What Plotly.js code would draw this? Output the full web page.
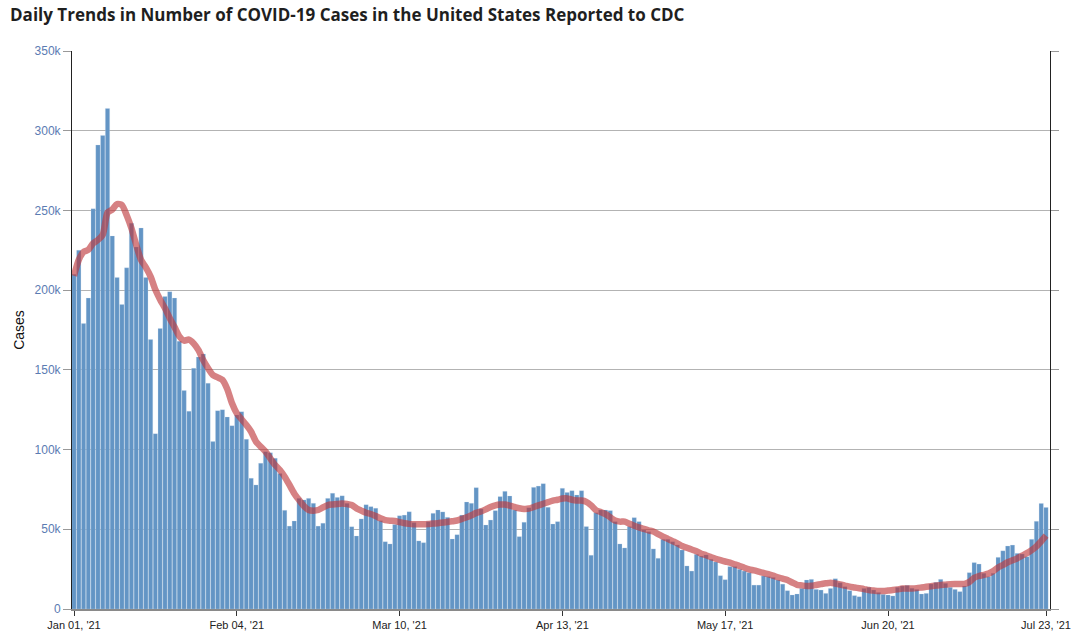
<!DOCTYPE html>
<html>
<head>
<meta charset="utf-8">
<script src="https://cdn.plot.ly/plotly-3.0.1.min.js"></script>
<style>
  html, body { margin: 0; padding: 0; background: #fff; }
  #chart { width: 1080px; height: 636px; }
</style>
</head>
<body>
<div id="chart"></div>
<script>
// First reported date; one bar per day after it
const startDate = '2021-01-01';

// Daily new cases (thousands), Jan 01 - Jul 23 2021
const dailyCasesK = [
  210, 225, 179, 195, 251, 291, 297, 314, 234, 208,
  191, 214, 242, 227, 239, 208, 169, 110, 176, 196,
  199, 195, 168, 137, 124, 151, 158, 160, 141.6, 105,
  124.4, 125, 120.4, 115, 121.7, 123.8, 106.4, 82, 77.8, 91.4,
  98.7, 98, 94.5, 85, 61.9, 52, 55.2, 69.4, 68.4, 69.4,
  66.3, 52, 53.8, 69.4, 72.6, 70, 71, 66.3, 51.6, 45.8,
  56.5, 65.4, 64.2, 63.2, 55.4, 42.2, 40.8, 53, 58.5, 58.9,
  61, 54.2, 42.7, 41.6, 54.8, 60, 62.1, 60.9, 57.5, 43.9,
  46.6, 58.9, 67.1, 66.3, 76.1, 62.8, 52.7, 55.8, 61.7, 70.5,
  73.8, 70.9, 62.1, 45.4, 54.4, 63.5, 76.3, 77.1, 78.6, 63.8,
  53.3, 54.8, 75.7, 73.1, 74.2, 71.5, 74.2, 51.7, 33.7, 60.4,
  62.1, 62.1, 61.7, 54.8, 40.8, 38.3, 51.7, 57.3, 54.8, 49.6,
  48.5, 37.7, 31.8, 43.7, 43.7, 42.2, 40.2, 37, 27, 23.8,
  34.3, 33.2, 33.9, 31.2, 29.5, 20.9, 18.4, 26.6, 26.6, 24.9,
  23.8, 22.8, 15, 15, 20.7, 20.3, 19.8, 18.2, 15.6, 11.5,
  8.8, 9.4, 12.9, 18.2, 18.6, 12.3, 11.9, 9.8, 12.9, 19,
  16.5, 14, 11.5, 8.4, 7.7, 12.9, 13.6, 11.9, 10.4, 9.2,
  8.8, 8.2, 13.6, 14.4, 14.8, 13, 12.3, 9.4, 9.8, 15.7,
  16.7, 18.6, 16.1, 13.6, 12.3, 10.9, 14.4, 22.8, 29.1, 28.2,
  22.4, 20.3, 22.4, 32.4, 36.5, 39.5, 40.1, 34.9, 34.5, 32.8,
  43.7, 55, 66.2, 63.7
];

// 7-day moving average (thousands)
const sevenDayAvgK = [
  209, 219, 224, 225.3, 229.4, 231.5, 234.7, 248.6, 250.6, 254,
  253.4, 247, 238.8, 228.3, 219, 214.3, 208.5, 200.2, 194, 188.6,
  182.4, 176.8, 171, 168.3, 169, 166.6, 162.4, 156, 151, 146.8,
  145.3, 143.7, 138, 129, 122.7, 119, 115.4, 111.2, 105, 101.8,
  98.7, 94.5, 90.3, 87.2, 83, 77.8, 72.5, 68.4, 64.6, 62.1,
  61.7, 62.1, 63.7, 65.2, 65.6, 65.9, 66.1, 65.9, 65.2, 63.1,
  61.7, 60.4, 59.6, 58.3, 56.9, 55.8, 55.4, 55.2, 54.5, 53.8,
  53.4, 53.2, 53.1, 53.1, 53.3, 53.6, 53.8, 54.3, 54.6, 55,
  55.5, 56.5, 57.5, 58.8, 60.3, 61.2, 62.5, 64, 65, 65.5,
  65.5, 64.8, 64, 63.2, 62.8, 63, 64, 65, 66, 67,
  68, 68.5, 69.3, 69.4, 68.5, 68, 68, 67.2, 65, 62,
  60.8, 59.5, 57.5, 55.5, 54.8, 54.8, 53.5, 52.2, 51.2, 50.2,
  49.3, 48.6, 47, 45.4, 44, 42.6, 41.2, 39.5, 38.4, 37.3,
  36.2, 34.7, 33.7, 32.6, 31.5, 30.6, 29.8, 29.1, 28, 27,
  25.9, 24.9, 24.2, 23.4, 22.6, 21.8, 20.9, 19.9, 19, 18.2,
  16.6, 15.2, 14.8, 14.4, 14.6, 15.1, 15.6, 16.1, 16.5, 16,
  15.4, 14.7, 14, 13.5, 13, 12.5, 11.9, 11.6, 11.3, 11.3,
  11.6, 11.9, 12.3, 12.8, 12.9, 12.9, 13.1, 13.5, 13.9, 14.3,
  14.7, 15, 15.3, 15.6, 15.7, 15.7, 15.8, 17, 19.6, 20.7,
  21.4, 22.2, 23.8, 26.1, 27.6, 29.3, 30.5, 31.8, 33.5, 35,
  36.9, 39.3, 42.5, 46
];

// Axis ticks
const xTickDates = ['2021-01-01', '2021-02-04', '2021-03-10', '2021-04-13', '2021-05-17', '2021-06-20', '2021-07-23'];
const xTickLabels = ["Jan 01, '21", "Feb 04, '21", "Mar 10, '21", "Apr 13, '21", "May 17, '21", "Jun 20, '21", "Jul 23, '21"];
const yTickVals = [0, 50000, 100000, 150000, 200000, 250000, 300000, 350000];
const yTickLabels = ['0', '50k', '100k', '150k', '200k', '250k', '300k', '350k'];

// Build the date list for the bars
const dates = [];
const d0 = new Date(startDate + 'T00:00:00Z');
for (let i = 0; i < dailyCasesK.length; i++) {
  const d = new Date(d0.getTime() + i * 86400000);
  dates.push(d.toISOString().slice(0, 10));
}
const dailyCases = dailyCasesK.map(v => v * 1000);
const sevenDayAvg = sevenDayAvgK.map(v => v * 1000);

const traces = [
  {
    type: 'bar',
    x: dates,
    y: dailyCases,
    marker: { color: 'rgb(99,149,197)', line: { color: 'rgba(205,222,240,0.6)', width: 0.4 } },
    hoverinfo: 'x+y',
    showlegend: false
  },
  {
    type: 'scatter',
    mode: 'lines',
    x: dates,
    y: sevenDayAvg,
    line: { color: 'rgba(190,55,58,0.63)', width: 6.5, shape: 'spline', smoothing: 0.7 },
    hoverinfo: 'x+y',
    showlegend: false
  }
];

const layout = {
  width: 1080,
  height: 636,
  margin: { l: 72, r: 30, t: 51, b: 27, pad: 0 },
  paper_bgcolor: '#ffffff',
  plot_bgcolor: '#ffffff',
  bargap: 0.1,
  title: {
    text: 'Daily Trends in Number of COVID-19 Cases in the United States Reported to CDC',
    font: { family: 'Open Sans', size: 17, color: '#1f1f1f', weight: 700 },
    xref: 'container', x: 0.0093, xanchor: 'left',
    yref: 'container', y: 0.976, yanchor: 'middle'
  },
  xaxis: {
    type: 'date',
    range: ['2020-12-31 14:00', '2021-07-23 20:00'],
    tickmode: 'array',
    tickvals: xTickDates,
    ticktext: xTickLabels,
    ticks: 'outside',
    ticklen: 5,
    tickcolor: '#333',
    tickfont: { family: 'Liberation Sans, Arial', size: 11, color: '#222' },
    showgrid: false,
    showline: true,
    linecolor: '#8a8a8a',
    linewidth: 2,
    zeroline: false,
    automargin: false
  },
  yaxis: {
    range: [0, 350000],
    tickmode: 'array',
    tickvals: yTickVals,
    ticktext: yTickLabels,
    ticks: 'outside',
    ticklen: 8,
    tickcolor: '#999',
    tickfont: { family: 'Liberation Sans, Arial', size: 12, color: '#5b7bb2' },
    showgrid: true,
    gridcolor: '#b3b3b3',
    gridwidth: 1,
    showline: true,
    linecolor: '#222',
    linewidth: 1,
    mirror: 'ticks',
    zeroline: false,
    automargin: false,
    title: {
      text: 'Cases',
      font: { family: 'Liberation Sans, Arial', size: 14, color: '#111' },
      standoff: 6
    }
  }
};

Plotly.newPlot('chart', traces, layout, { displayModeBar: false, staticPlot: true });
</script>
</body>
</html>
